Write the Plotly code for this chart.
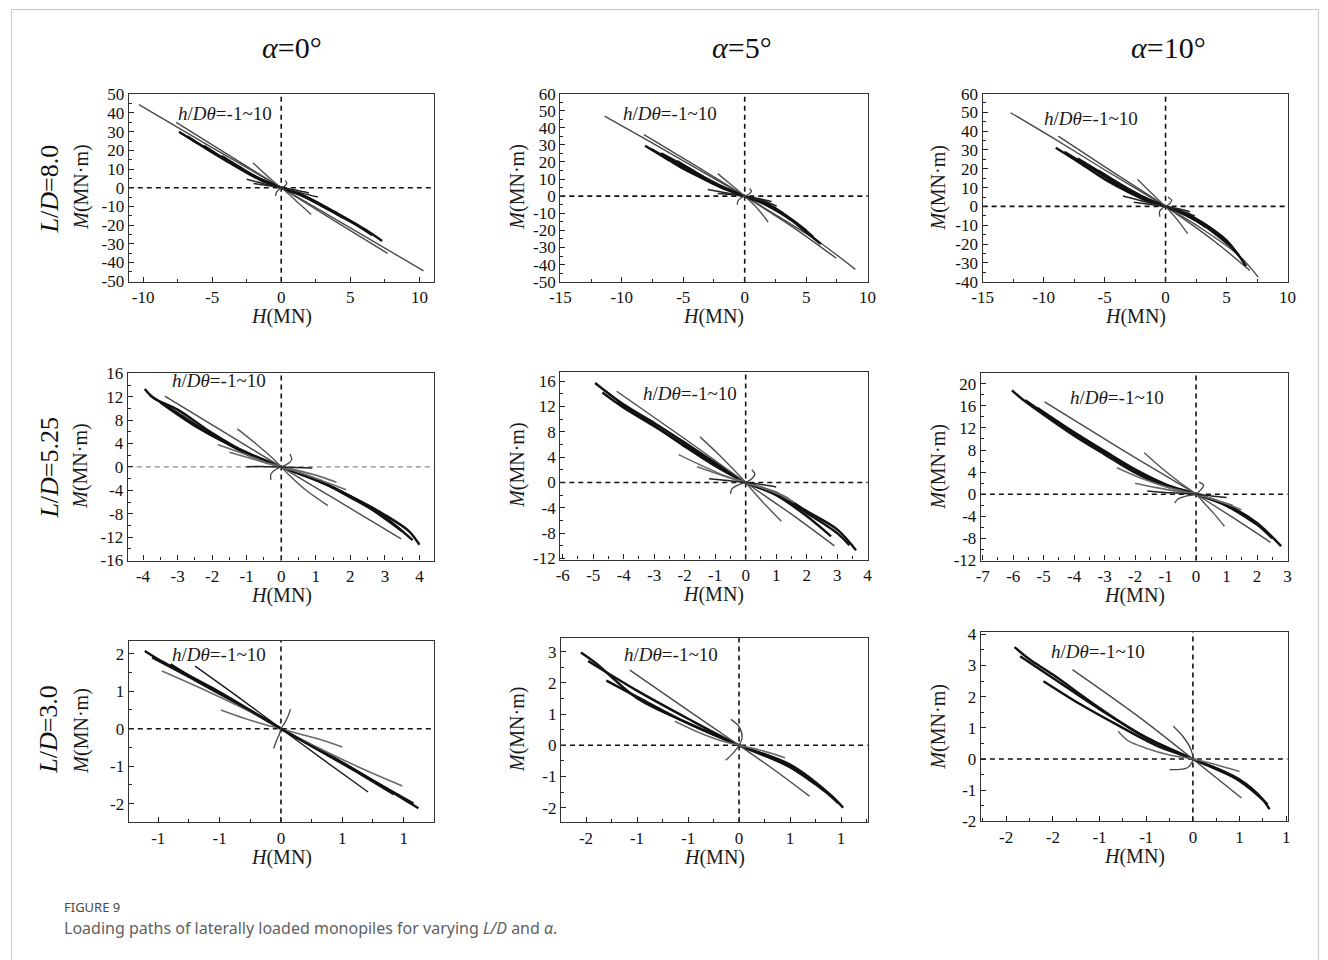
import plotly.graph_objects as go

W, HP = 1328, 960
# the returned picture is the page drawn slightly reduced inside a thin border:
# picture = page * S + O.  Target coordinates below are picture pixels.
SX, OX, SY, OY = 0.9852, 9.85, 0.9796, 9.8

COL_TITLES = ["<i>α</i>=0°", "<i>α</i>=5°", "<i>α</i>=10°"]
ROW_TITLES = ["<i>L</i>/<i>D</i>=8.0", "<i>L</i>/<i>D</i>=5.25", "<i>L</i>/<i>D</i>=3.0"]
NOTE = "<i>h</i>/<i>Dθ</i>=-1~10"
X_TITLE = "<i>H</i>(MN)"
Y_TITLE = "<i>M</i>(MN·m)"
CAPTION_HEAD = "FIGURE 9"
CAPTION_TEXT = "Loading paths of laterally loaded monopiles for varying <i>L/D</i> and <i>α</i>."

# ---------------- data: each panel = list of paths (H, M) ----------------
# Row 1: L/D = 8.0
P11_ROLE = ["long", "mid", "band", "band", "band", "band", "steep", "flat", "flat", "hook"]
P11_H = [
    [-10.3, -5, 0, 5, 10.3],
    [-7.6, -4, 0, 4, 7.7],
    [-7.4, -6, -4, -2, -0.8, 0, 0.8, 2, 4, 6, 7.3],
    [-6.8, -5, -3, -1.5, 0, 1.5, 3, 5, 6.6],
    [-5.6, -4, -2, 0, 2, 4, 5.6],
    [-4.3, -3, -1.5, 0, 1.5, 3, 4.5],
    [-2.05, -1.3, -0.6, 0, 0.6, 1.3, 2.17],
    [-2.5, -1.5, -0.6, 0, 0.6, 1.5, 2.65],
    [-2.0, -1.0, -0.3, 0, 0.4, 1.2, 2.0],
    [-0.4, -0.35, -0.15, 0, 0.25, 0.4, 0.3],
]
P11_M = [
    [44.5, 21.5, 0, -21.5, -44.5],
    [35, 18.4, 0, -18.4, -35.2],
    [30, 23.5, 14.5, 6, 2, 0, -1.8, -5.5, -13.5, -22, -28.5],
    [27.5, 19, 10.5, 4.2, 0, -4, -9.8, -18, -25.5],
    [22.5, 15, 6.3, 0, -5.8, -14, -20.5],
    [17, 11, 4.6, 0, -4.2, -10, -16],
    [13.4, 8.2, 3.6, 0, -3.8, -8.6, -14.3],
    [4.5, 2.6, 0.9, 0, -1, -2.9, -5],
    [2.3, 1.2, 0.3, 0, -0.4, -1.5, -2.8],
    [-4.5, -2.5, -0.8, 0, 0.8, 2.5, 3.8],
]

P12_ROLE = ["long", "mid", "band", "band", "band", "band", "steep", "flat", "flat", "hook"]
P12_H = [
    [-11.4, -8, -4, 0, 3, 6, 9.0],
    [-8.2, -4, 0, 4, 7.45],
    [-8.1, -6.5, -5, -3, -1.5, 0, 1.5, 3, 4.5, 6.2],
    [-7.6, -6, -4, -2, 0, 2, 4, 5.6],
    [-6.8, -5, -3, -1, 0, 1, 3, 5],
    [-5.5, -4, -2, 0, 2, 3.8],
    [-2.2, -1.4, -0.6, 0, 0.6, 1.2, 1.9],
    [-3.0, -2, -1, 0, 1, 2, 2.6],
    [-2.2, -1.2, -0.4, 0, 0.5, 1.4, 2.2],
    [-0.6, -0.55, -0.25, 0, 0.3, 0.55, 0.4],
]
P12_M = [
    [46.8, 33, 16.5, 0, -13, -26.5, -42.8],
    [36, 17.8, 0, -18.5, -36.3],
    [29.5, 22.5, 16, 8.8, 3.8, 0, -3.2, -9.5, -18, -28],
    [27.5, 21, 13, 5.8, 0, -5.3, -14.5, -24],
    [25, 18, 9.8, 2.8, 0, -2.6, -10.3, -20],
    [20.5, 14, 6, 0, -5.5, -14],
    [13.2, 8.5, 3.7, 0, -4, -8.5, -15.1],
    [3.9, 2.6, 1.2, 0, -1.6, -3.9, -5.9],
    [1.5, 0.9, 0.3, 0, -0.5, -1.8, -3.2],
    [-5, -2.8, -0.8, 0, 1, 2.8, 4.5],
]

P13_ROLE = ["long", "mid", "band", "band", "band", "band", "steep", "flat", "flat", "hook"]
P13_H = [
    [-12.7, -9, -5, 0, 3, 6, 7.6],
    [-8.8, -5, 0, 4, 6.9],
    [-9.0, -7, -5, -3, -1.5, 0, 1.5, 3, 5, 6.6],
    [-8.3, -6, -4, -2, 0, 2, 4, 6],
    [-7.2, -5, -3, -1, 0, 1, 3, 5.2],
    [-5.5, -3.5, -1.5, 0, 1.5, 3.3],
    [-2.3, -1.5, -0.7, 0, 0.6, 1.2, 1.8],
    [-3.5, -2.3, -1.1, 0, 1, 1.8, 2.4],
    [-2.6, -1.5, -0.5, 0, 0.5, 1.3, 2.0],
    [-0.45, -0.5, -0.25, 0, 0.3, 0.5, 0.2],
]
P13_M = [
    [49.8, 35.5, 19.5, 0, -12, -26, -37.6],
    [37.4, 21.2, 0, -18.5, -34],
    [31.2, 23, 14.5, 7.5, 3, 0, -3.3, -8.5, -18, -31.7],
    [29, 20, 12, 5, 0, -5, -13, -26],
    [25.5, 16.8, 9, 2.5, 0, -2.6, -9.5, -20.5],
    [19, 11, 4, 0, -3.6, -11],
    [14.4, 9.2, 4.2, 0, -4.3, -9, -14.4],
    [5.5, 3.5, 1.5, 0, -1.8, -3.5, -5.1],
    [2.2, 1.3, 0.4, 0, -0.6, -1.6, -2.8],
    [-5.5, -3, -0.8, 0, 1.2, 3.2, 5],
]

# Row 2: L/D = 5.25
P21_ROLE = ["band", "band", "band", "mid", "steep", "flatg", "flatg", "flat", "hook"]
P21_H = [
    [-3.95, -3.7, -3, -2, -1, 0, 1, 2, 3, 3.7, 4.0],
    [-3.8, -3, -2, -1, 0, 1, 2, 3, 3.8],
    [-3.5, -2.5, -1.5, 0, 1.5, 2.5, 3.5],
    [-3.37, -1.5, 0, 1.5, 3.47],
    [-1.27, -0.7, -0.25, 0, 0.25, 0.7, 1.35],
    [-1.83, -1.2, -0.5, 0, 0.5, 1.2, 1.88],
    [-1.5, -0.8, -0.3, 0, 0.4, 1.0, 1.6],
    [-1.0, -0.4, 0, 0.4, 0.9],
    [-0.3, -0.3, -0.12, 0, 0.12, 0.3, 0.25],
]
P21_M = [
    [13.3, 11.8, 9.8, 5.8, 2.4, 0, -2.2, -5, -8.2, -11, -13.3],
    [12.2, 9.2, 5.5, 2.2, 0, -2.1, -5.2, -8.6, -12.5],
    [11, 7, 3.8, 0, -3.5, -6.8, -11],
    [12.1, 5.4, 0, -5.3, -12.3],
    [6.5, 3.8, 1.5, 0, -1.5, -3.9, -6.6],
    [3.8, 2.5, 0.9, 0, -0.9, -2.4, -3.9],
    [2.5, 1.3, 0.4, 0, -0.5, -1.4, -2.6],
    [0.05, 0.05, 0, -0.1, -0.2],
    [-2.2, -1.2, -0.3, 0, 0.3, 1.2, 2.2],
]

P22_ROLE = ["band", "band", "band", "mid", "steep", "flatg", "flatg", "flat", "hook"]
P22_H = [
    [-4.94, -4.7, -4, -3, -2, -1, 0, 1, 2, 3, 3.62],
    [-4.7, -4, -3, -2, -1, 0, 1, 2, 3, 3.4],
    [-4.2, -3, -2, -1, 0, 1, 2, 2.8],
    [-4.23, -2, 0, 1.5, 2.91],
    [-1.5, -0.9, -0.35, 0, 0.3, 0.7, 1.17],
    [-2.2, -1.5, -0.7, 0, 0.6, 1.1, 1.6],
    [-1.6, -1.0, -0.4, 0, 0.4, 0.9, 1.4],
    [-1.2, -0.6, 0, 0.5, 1.0],
    [-0.5, -0.45, -0.2, 0, 0.2, 0.3, 0.2],
]
P22_M = [
    [15.7, 14.8, 12.3, 9.4, 6.3, 3.1, 0, -1.6, -4.5, -7.4, -10.7],
    [14.2, 11.8, 8.9, 5.9, 2.9, 0, -1.8, -4.8, -8, -9.9],
    [12.8, 9, 5.7, 2.6, 0, -2, -5.3, -8.5],
    [14.4, 6.9, 0, -5, -10],
    [7.2, 4.5, 1.8, 0, -1.7, -3.8, -6.1],
    [4.4, 2.8, 1.1, 0, -0.9, -1.9, -3.2],
    [2.5, 1.5, 0.5, 0, -0.6, -1.4, -2.5],
    [0.6, 0.3, 0, -0.3, -0.7],
    [-1.8, -1, -0.3, 0, 0.6, 1.3, 2.0],
]

P23_ROLE = ["band", "band", "band", "mid", "steep", "flatg", "flatg", "flat", "hook"]
P23_H = [
    [-6.04, -5.7, -5, -4, -3, -2, -1, 0, 1, 2, 2.79],
    [-5.6, -5, -4, -3, -2, -1, 0, 1, 2, 2.5],
    [-5.2, -4, -3, -2, -1, 0, 1, 2],
    [-4.97, -2.5, 0, 1.2, 2.44],
    [-1.7, -1.1, -0.5, 0, 0.3, 0.6, 0.93],
    [-2.6, -1.8, -0.9, 0, 0.5, 1.0, 1.48],
    [-2.0, -1.3, -0.6, 0, 0.4, 0.8, 1.2],
    [-1.6, -0.8, 0, 0.5, 1.0],
    [-0.7, -0.6, -0.3, 0, 0.15, 0.25, 0.1],
]
P23_M = [
    [18.8, 17.2, 14.4, 10.6, 7.2, 3.9, 1.45, 0, -1.9, -5.2, -9.4],
    [17, 14.7, 11, 7.6, 4.3, 1.7, 0, -2, -5.5, -8],
    [15.6, 11.2, 7.8, 4.5, 1.8, 0, -2.1, -5.5],
    [16.7, 8.3, 0, -4.2, -8.7],
    [7.5, 4.6, 2.0, 0, -1.8, -3.6, -5.8],
    [4.8, 2.9, 1.2, 0, -0.8, -1.7, -2.8],
    [2.0, 1.2, 0.5, 0, -0.6, -1.3, -2.0],
    [0.6, 0.25, 0, -0.3, -0.6],
    [-1.6, -0.9, -0.3, 0, 0.8, 1.6, 2.2],
]

# Row 3: L/D = 3.0
P31_ROLE = ["band", "band", "flatg", "midk", "flatg", "band", "hook"]
P31_H = [
    [-1.11, -1.0, -0.5, 0, 0.5, 1.0, 1.12],
    [-1.05, -0.75, -0.4, 0, 0.4, 0.75, 1.08],
    [-0.97, -0.6, -0.25, 0, 0.3, 0.65, 0.99],
    [-0.70, -0.35, 0, 0.35, 0.71],
    [-0.49, -0.3, -0.12, 0, 0.15, 0.3, 0.5],
    [-0.9, -0.6, -0.3, 0, 0.3, 0.6, 0.92],
    [-0.06, -0.04, -0.01, 0, 0.03, 0.06, 0.077],
]
P31_M = [
    [2.07, 1.85, 0.98, 0, -0.9, -1.88, -2.12],
    [1.9, 1.38, 0.75, 0, -0.72, -1.38, -2.0],
    [1.54, 1.0, 0.45, 0, -0.5, -1.05, -1.53],
    [1.67, 0.85, 0, -0.84, -1.69],
    [0.5, 0.28, 0.1, 0, -0.14, -0.27, -0.49],
    [1.72, 1.12, 0.58, 0, -0.56, -1.12, -1.75],
    [-0.53, -0.35, -0.12, 0, 0.15, 0.35, 0.52],
]

P32_ROLE = ["band", "band", "band", "mid", "flatg", "hook"]
P32_H = [
    [-1.55, -1.4, -1.0, -0.5, 0, 0.5, 0.9, 1.02],
    [-1.48, -1.0, -0.5, 0, 0.5, 0.85, 0.97],
    [-1.30, -1.0, -0.5, 0, 0.4, 0.75],
    [-1.07, -0.5, 0, 0.35, 0.69],
    [-0.63, -0.4, -0.15, 0, 0.2, 0.45],
    [-0.13, -0.05, 0, 0.03, 0.0, -0.08],
]
P32_M = [
    [2.97, 2.62, 1.51, 0.71, 0, -0.62, -1.6, -2.0],
    [2.7, 1.75, 0.85, 0, -0.7, -1.5, -1.85],
    [2.07, 1.55, 0.7, 0, -0.5, -1.25],
    [2.41, 1.12, 0, -0.8, -1.63],
    [0.77, 0.42, 0.12, 0, -0.15, -0.4],
    [-0.48, -0.22, 0, 0.25, 0.6, 0.83],
]

P33_ROLE = ["band", "band", "band", "mid", "flatg", "hook"]
P33_H = [
    [-1.91, -1.75, -1.5, -1.0, -0.5, 0, 0.5, 0.75, 0.82],
    [-1.85, -1.5, -1.0, -0.5, 0, 0.5, 0.8],
    [-1.6, -1.2, -0.8, -0.4, 0, 0.4, 0.7],
    [-1.29, -0.6, 0, 0.25, 0.52],
    [-0.8, -0.7, -0.5, -0.25, 0, 0.25, 0.5],
    [-0.21, -0.1, -0.02, 0, -0.06, -0.25],
]
P33_M = [
    [3.59, 3.2, 2.71, 1.64, 0.68, 0, -0.66, -1.3, -1.61],
    [3.3, 2.6, 1.6, 0.7, 0, -0.7, -1.45],
    [2.5, 1.75, 1.08, 0.45, 0, -0.5, -1.15],
    [2.87, 1.4, 0, -0.6, -1.25],
    [0.89, 0.6, 0.35, 0.13, 0, -0.18, -0.4],
    [1.05, 0.7, 0.3, 0, -0.28, -0.34],
]

# ---------------- ticks (values and the labels printed on them) ----------------
P11_XT = [-10, -5, 0, 5, 10]; P11_YT = list(range(-50, 51, 10))
P12_XT = [-15, -10, -5, 0, 5, 10]; P12_YT = list(range(-50, 61, 10))
P13_XT = [-15, -10, -5, 0, 5, 10]; P13_YT = list(range(-40, 61, 10))
P21_XT = [-4, -3, -2, -1, 0, 1, 2, 3, 4]; P21_YT = list(range(-16, 17, 4))
P22_XT = [-6, -5, -4, -3, -2, -1, 0, 1, 2, 3, 4]; P22_YT = list(range(-12, 17, 4))
P23_XT = [-7, -6, -5, -4, -3, -2, -1, 0, 1, 2, 3]; P23_YT = list(range(-12, 21, 4))
P31_XT = [-1.0, -0.5, 0, 0.5, 1.0]; P31_XL = ["-1", "-1", "0", "1", "1"]; P31_YT = [-2, -1, 0, 1, 2]
P32_XT = [-1.5, -1.0, -0.5, 0, 0.5, 1.0]; P32_XL = ["-2", "-1", "-1", "0", "1", "1"]; P32_YT = [-2, -1, 0, 1, 2, 3]
P33_XT = [-2.0, -1.5, -1.0, -0.5, 0, 0.5, 1.0]; P33_XL = ["-2", "-2", "-1", "-1", "0", "1", "1"]; P33_YT = [-2, -1, 0, 1, 2, 3, 4]


def labels(vals):
    return [str(v) for v in vals]


# ---------------- layout (target pixel boxes, ranges, minor steps) ----------------
panels = [
    dict(H=P11_H, M=P11_M, R=P11_ROLE, xt=P11_XT, xl=labels(P11_XT), yt=P11_YT,
         box=(127.7, 433.3, 94.3, 282.3), xr=[-11.03, 11.08], yr=[-50.3, 50.4], xm=2.5, ym=5,
         note=(224, 114), ydash="#111"),
    dict(H=P12_H, M=P12_M, R=P12_ROLE, xt=P12_XT, xl=labels(P12_XT), yt=P12_YT,
         box=(559.3, 866.7, 94.3, 282.3), xr=[-15, 10], yr=[-50, 60], xm=2.5, ym=5,
         note=(669, 114), ydash="#111"),
    dict(H=P13_H, M=P13_M, R=P13_ROLE, xt=P13_XT, xl=labels(P13_XT), yt=P13_YT,
         box=(981.7, 1286.7, 94.3, 282.3), xr=[-15, 10], yr=[-40, 60], xm=2.5, ym=5,
         note=(1090, 119), ydash="#111"),
    dict(H=P21_H, M=P21_M, R=P21_ROLE, xt=P21_XT, xl=labels(P21_XT), yt=P21_YT,
         box=(126.7, 433.3, 373.3, 561), xr=[-4.44, 4.43], yr=[-16, 16.1], xm=0.5, ym=2,
         note=(218, 381), ydash="#888"),
    dict(H=P22_H, M=P22_M, R=P22_ROLE, xt=P22_XT, xl=labels(P22_XT), yt=P22_YT,
         box=(559.3, 866.7, 372.7, 560), xr=[-6.08, 4], yr=[-12.16, 17.42], xm=0.5, ym=2,
         note=(689, 394), ydash="#111"),
    dict(H=P23_H, M=P23_M, R=P23_ROLE, xt=P23_XT, xl=labels(P23_XT), yt=P23_YT,
         box=(980, 1286.7, 373.3, 561), xr=[-7.06, 3], yr=[-12, 21.99], xm=0.5, ym=2,
         note=(1116, 398), ydash="#111"),
    dict(H=P31_H, M=P31_M, R=P31_ROLE, xt=P31_XT, xl=P31_XL, yt=P31_YT,
         box=(127.7, 433.3, 641, 822.7), xr=[-1.24, 1.25], yr=[-2.5, 2.35], xm=0.25, ym=0.5,
         note=(218, 655), ydash="#111"),
    dict(H=P32_H, M=P32_M, R=P32_ROLE, xt=P32_XT, xl=P32_XL, yt=P32_YT,
         box=(560, 866.7, 638, 822.7), xr=[-1.745, 1.26], yr=[-2.47, 3.45], xm=0.25, ym=0.5,
         note=(670, 655), ydash="#111"),
    dict(H=P33_H, M=P33_M, R=P33_ROLE, xt=P33_XT, xl=P33_XL, yt=P33_YT,
         box=(980, 1286.7, 632.3, 821.7), xr=[-2.27, 1.013], yr=[-2.0, 4.08], xm=0.25, ym=0.5,
         note=(1097, 652), ydash="#111"),
]

STYLE = {
    "band": dict(color="#111111", width=2.4),
    "long": dict(color="#4a4a4a", width=1.4),
    "mid": dict(color="#4a4a4a", width=1.4),
    "midk": dict(color="#1a1a1a", width=1.4),
    "steep": dict(color="#555555", width=1.4),
    "flat": dict(color="#222222", width=1.5),
    "flatg": dict(color="#6a6a6a", width=1.6),
    "hook": dict(color="#444444", width=1.3),
}


def px(x):
    return ((x - OX) / SX) / W


def py(y):
    return 1 - ((y - OY) / SY) / HP


SERIF = "Liberation Serif"
fig = go.Figure()
annotations = []
shapes = []

for i, p in enumerate(panels):
    n = i + 1
    xa = "x" if n == 1 else f"x{n}"
    ya = "y" if n == 1 else f"y{n}"
    for h, m, r in zip(p["H"], p["M"], p["R"]):
        fig.add_trace(go.Scatter(x=h, y=m, mode="lines", xaxis=xa, yaxis=ya,
                                 line=dict(shape="spline", smoothing=0.9, **STYLE[r]),
                                 showlegend=False, hoverinfo="skip"))
    l, rgt, t, b = p["box"]
    xkey = "xaxis" if n == 1 else f"xaxis{n}"
    ykey = "yaxis" if n == 1 else f"yaxis{n}"
    common = dict(ticks="inside", ticklen=5, tickwidth=1.2, tickcolor="#222",
                  showline=True, linecolor="#333", linewidth=1.3, mirror=True,
                  showgrid=False, zeroline=False, tickmode="array",
                  tickfont=dict(family=SERIF, size=17, color="#111"))
    xdict = dict(domain=[px(l), px(rgt)], range=p["xr"], anchor=ya,
                 tickvals=p["xt"], ticktext=p["xl"],
                 minor=dict(ticks="inside", ticklen=3, dtick=p["xm"], tick0=0,
                            tickcolor="#222", showgrid=False), **common)
    ydict = dict(domain=[py(b), py(t)], range=p["yr"], anchor=xa,
                 tickvals=p["yt"], ticktext=labels(p["yt"]),
                 minor=dict(ticks="inside", ticklen=3, dtick=p["ym"], tick0=0,
                            tickcolor="#222", showgrid=False), **common)
    fig.update_layout({xkey: xdict, ykey: ydict})

    # dashed zero lines
    shapes.append(dict(type="line", xref=xa, yref=f"{ya} domain", x0=0, x1=0, y0=0, y1=1,
                       line=dict(color="#111", width=1.6, dash="5px,4px"), layer="below"))
    shapes.append(dict(type="line", xref=f"{xa} domain", yref=ya, x0=0, x1=1, y0=0, y1=0,
                       line=dict(color=p["ydash"], width=1.6 if p["ydash"] == "#111" else 1.2,
                                 dash="5px,4px"), layer="below"))

    # note
    annotations.append(dict(text=NOTE, x=px(p["note"][0]), y=py(p["note"][1]), xref="paper",
                            yref="paper", showarrow=False, xanchor="center", yanchor="middle",
                            font=dict(family=SERIF, size=19, color="#1a1a1a")))
    # axis titles (just below the tick labels of each panel)
    cx = (l + rgt) / 2
    xt_y = b + 35
    annotations.append(dict(text=X_TITLE, x=px(cx), y=py(xt_y), xref="paper", yref="paper",
                            showarrow=False, xanchor="center", yanchor="middle",
                            font=dict(family=SERIF, size=20, color="#1a1a1a")))
    ylab_x = {0: 80, 1: 517, 2: 938}[i % 3]
    annotations.append(dict(text=Y_TITLE, x=px(ylab_x), y=py((t + b) / 2), xref="paper",
                            yref="paper", showarrow=False, xanchor="center", yanchor="middle",
                            textangle=-90, font=dict(family=SERIF, size=20, color="#1a1a1a")))

# column and row titles
for txt, xc in zip(COL_TITLES, [291, 741, 1168]):
    annotations.append(dict(text=txt, x=px(xc), y=py(48), xref="paper", yref="paper",
                            showarrow=False, xanchor="center", yanchor="middle",
                            font=dict(family=SERIF, size=30, color="#111")))
for txt, yc in zip(ROW_TITLES, [190, 468, 730]):
    annotations.append(dict(text=txt, x=px(48), y=py(yc), xref="paper", yref="paper",
                            showarrow=False, xanchor="center", yanchor="middle", textangle=-90,
                            font=dict(family=SERIF, size=26, color="#111")))

# caption
annotations.append(dict(text=CAPTION_HEAD, x=px(61), y=py(907), xref="paper", yref="paper",
                        showarrow=False, xanchor="left", yanchor="middle",
                        font=dict(family="Noto Sans", size=13, color="#4a4a4a")))
annotations.append(dict(text=CAPTION_TEXT, x=px(61), y=py(928), xref="paper", yref="paper",
                        showarrow=False, xanchor="left", yanchor="middle",
                        font=dict(family="Noto Sans", size=16, color="#5f5f5f")))

# outer frame (as close to the picture edge as the page allows)
shapes.append(dict(type="rect", xref="paper", yref="paper", x0=0.0005, x1=0.9995,
                   y0=-0.05, y1=0.9995, line=dict(color="#c8c8c8", width=1)))

fig.update_layout(width=W, height=HP, margin=dict(l=0, r=0, t=0, b=0),
                  paper_bgcolor="white", plot_bgcolor="white",
                  annotations=annotations, shapes=shapes, showlegend=False)

fig.write_html("out.html")
